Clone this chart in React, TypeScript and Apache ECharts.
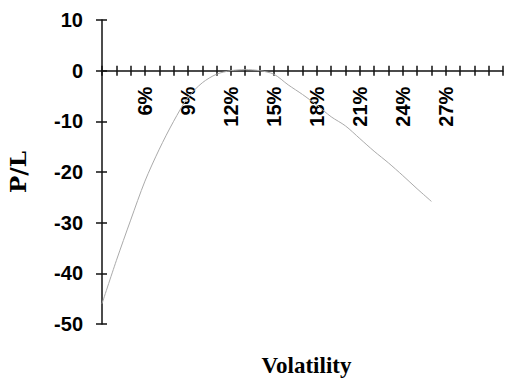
import React, { useEffect, useRef } from "react";
import * as echarts from "echarts";

const volatility: number[] = [3, 4, 5, 6, 7, 8, 9, 10, 11, 12, 13, 14, 15, 16, 17, 18, 19, 20, 21, 22, 23, 24, 25, 26];
const pnl: number[] = [-46, -37.5, -29.5, -21.8, -15.5, -10, -5.3, -2.4, -0.7, 0, 0.2, 0, -0.7, -2.8, -4.7, -6.8, -9.1, -10.9, -13.4, -15.9, -18.2, -20.7, -23.3, -25.8];
const xLabels: number[] = [6, 9, 12, 15, 18, 21, 24, 27];
const yTicks: number[] = [-50, -40, -30, -20, -10, 0, 10];

export default function App() {
  const ref = useRef<HTMLDivElement>(null);
  useEffect(() => {
    if (!ref.current) return;
    const chart = echarts.init(ref.current, undefined, { renderer: "svg" });
    const data = volatility.map((v, i) => [v, pnl[i]]);
    const tickFont = { fontFamily: "Liberation Sans", fontSize: 20, fontWeight: "bold", color: "#000" };
    // the horizontal axis sits at P/L = 0: 0 is 10/60 of the way down a 304px grid
    const zeroOffset = -(304 * 50) / 60;
    chart.setOption({
      animation: false,
      backgroundColor: "#fff",
      grid: { left: 102, top: 20, width: 401, height: 304, containLabel: false, outerBoundsMode: "none" },
      xAxis: [
        {
          type: "value",
          min: 3,
          max: 31,
          interval: 1,
          position: "bottom",
          offset: zeroOffset,
          name: "Volatility",
          nameLocation: "middle",
          nameGap: 283,
          nameTextStyle: {
            fontFamily: "Liberation Serif",
            fontWeight: "bold",
            fontSize: 23,
            color: "#000",
            padding: [0, 0, 0, 8],
          },
          axisLine: { onZero: false, lineStyle: { color: "#111", width: 1.5 } },
          axisTick: { length: 5, lineStyle: { color: "#111", width: 1.5 } },
          axisLabel: {
            ...tickFont,
            rotate: 90,
            margin: 16,
            showMinLabel: true,
            showMaxLabel: true,
            formatter: (v: number) => (xLabels.includes(v) ? `${v}%` : ""),
          },
          splitLine: { show: false },
        },
        {
          type: "value",
          min: 3,
          max: 31,
          interval: 1,
          position: "bottom",
          offset: zeroOffset,
          axisLine: { show: false, onZero: false },
          axisTick: { inside: true, length: 5, lineStyle: { color: "#111", width: 1.5 } },
          axisLabel: { show: false },
          splitLine: { show: false },
        },
      ],
      yAxis: [
        {
          type: "value",
          min: yTicks[0],
          max: yTicks[yTicks.length - 1],
          interval: 10,
          name: "P/L",
          nameLocation: "middle",
          nameRotate: 90,
          nameGap: 73,
          nameTextStyle: { fontFamily: "DejaVu Serif", fontWeight: "bold", fontSize: 23, color: "#000" },
          axisLine: { show: true, onZero: false, lineStyle: { color: "#111", width: 1.5 } },
          axisTick: { show: true, length: 6, lineStyle: { color: "#111", width: 1.5 } },
          axisLabel: { ...tickFont, margin: 19 },
          splitLine: { show: false },
        },
        {
          type: "value",
          min: yTicks[0],
          max: yTicks[yTicks.length - 1],
          interval: 10,
          position: "left",
          axisLine: { show: false, onZero: false },
          axisTick: { show: true, inside: true, length: 5, lineStyle: { color: "#111", width: 1.5 } },
          axisLabel: { show: false },
          splitLine: { show: false },
        },
      ],
      series: [
        {
          type: "line",
          xAxisIndex: 0,
          yAxisIndex: 0,
          data,
          showSymbol: false,
          smooth: 0.3,
          lineStyle: { color: "#aaaaaa", width: 1 },
        },
      ],
    });
    return () => chart.dispose();
  }, []);
  return <div ref={ref} style={{ position: "absolute", left: 0, top: 0, width: 512, height: 381 }} />;
}
